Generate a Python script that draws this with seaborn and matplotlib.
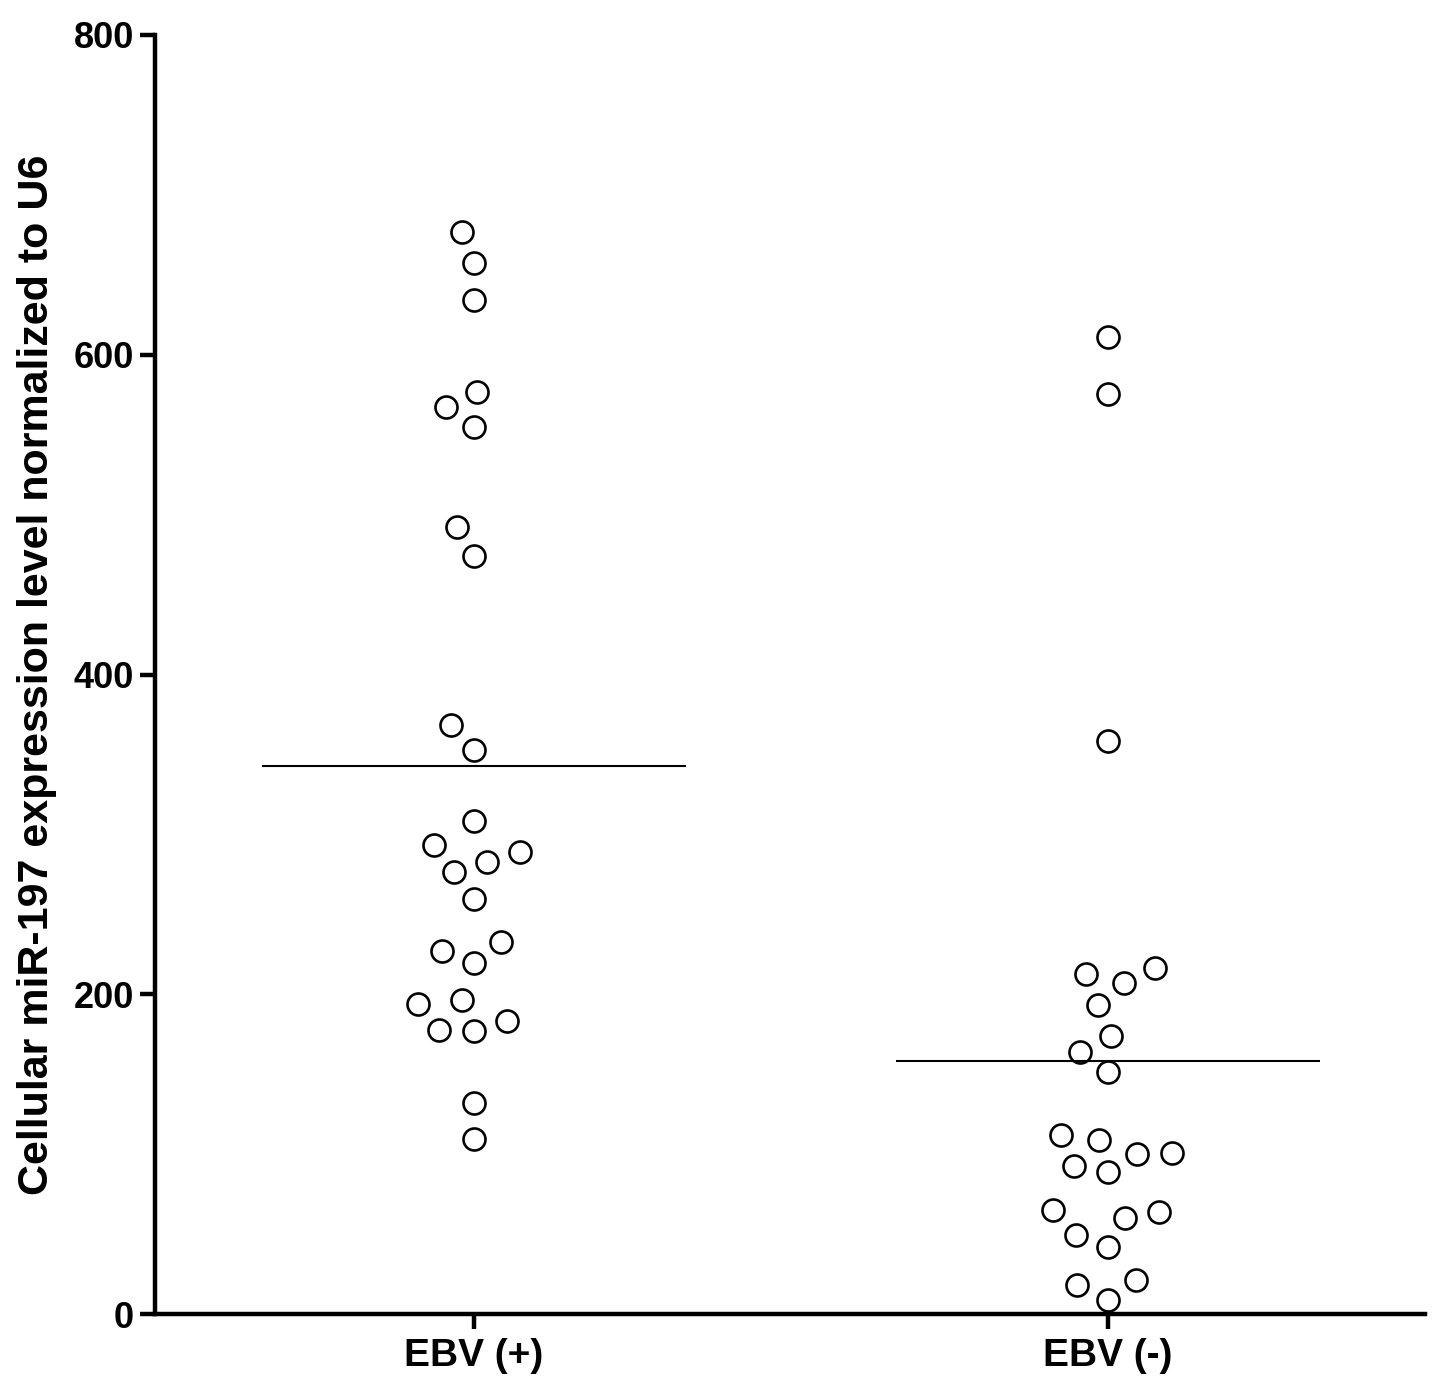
import numpy as np
import pandas as pd
import matplotlib
matplotlib.use("Agg")
import matplotlib.pyplot as plt
from matplotlib.path import Path
import seaborn as sns

categories = ["EBV (+)", "EBV (-)"]
ebv_pos = [676.7, 657.3, 634.1, 576.6, 567.2, 554.7, 492.2, 474.0, 368.4, 352.7,
           308.3, 293.3, 288.9, 282.7, 276.4, 259.5, 232.6, 227.0, 219.5, 196.4,
           193.9, 183.2, 177.0, 177.6, 132.0, 109.4]
ebv_neg = [611.0, 575.4, 358.3, 216.4, 212.6, 207.0, 193.2, 173.9, 163.9, 151.3,
           111.9, 108.8, 100.1, 100.7, 92.6, 88.8, 63.8, 65.0, 60.0, 49.4,
           41.9, 21.3, 18.1, 8.8]
y_ticks = [0, 200, 400, 600, 800]
y_label = "Cellular miR-197 expression level normalized to U6"

df = pd.DataFrame({
    "group": [categories[0]] * len(ebv_pos) + [categories[1]] * len(ebv_neg),
    "value": ebv_pos + ebv_neg,
})

sns.set_theme(style="ticks")
plt.rcParams["font.family"] = ["Liberation Sans", "DejaVu Sans"]
plt.rcParams["font.weight"] = "bold"

# open circle marker with transparent padding, so the swarm spacing is wider
circ = Path.unit_circle()
circ = Path(circ.vertices * 0.72, circ.codes)
pad = Path([[-1.0, -1.0], [1.0, 1.0]], [Path.MOVETO, Path.MOVETO])
padded_circle = Path.make_compound_path(circ, pad)

fig = plt.figure(figsize=(14.41, 14.0), dpi=100)
ax = fig.add_axes([0.1076, 0.0614, 0.8814, 0.9136])

sns.swarmplot(data=df, x="group", y="value", order=categories, ax=ax,
              marker=padded_circle, size=22, facecolor="white", edgecolor="black",
              linewidth=1.9, color="white")

means = df.groupby("group")["value"].mean()
for i, cat in enumerate(categories):
    ax.hlines(means[cat], i - 0.334, i + 0.334, color="black", linewidth=1.5, zorder=3)

ax.set_xlim(-0.503, 1.5)
ax.set_ylim(0, 800)
ax.set_yticks(y_ticks)
ax.set_yticklabels([str(t) for t in y_ticks])
ax.set_xlabel("")
ax.set_ylabel(y_label, fontsize=31, fontweight="bold", labelpad=12, color="black")

for s in ["top", "right"]:
    ax.spines[s].set_visible(False)
for s in ["left", "bottom"]:
    ax.spines[s].set_linewidth(3.2)
    ax.spines[s].set_color("black")
ax.tick_params(axis="both", direction="out", width=3.2, length=11, color="black",
               labelcolor="black")
ax.tick_params(axis="y", pad=4, labelsize=26)
ax.tick_params(axis="x", pad=6, labelsize=28)
for lab in ax.get_xticklabels() + ax.get_yticklabels():
    lab.set_fontweight("bold")

fig.savefig("out.png", dpi=100, facecolor="white")
